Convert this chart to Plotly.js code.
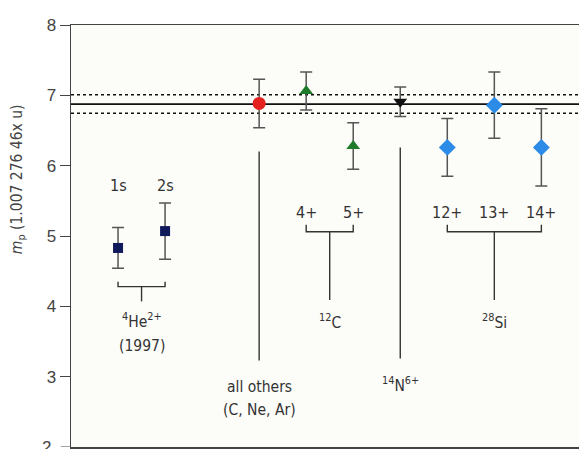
<!DOCTYPE html>
<html><head><meta charset="utf-8">
<script src="https://cdn.plot.ly/plotly-3.0.1.min.js"></script>
<style>body{margin:0;background:#fff}#chart{width:579px;height:449px}</style>
</head><body><div id="chart"></div>
<script>
// Data
const heX = [1, 2];
const heY = [4.83, 5.07];
const heErr = [0.29, 0.40];
const heLabels = ['1s', '2s'];

const allX = [4];
const allY = [6.885];
const allErr = [0.345];

const cX = [5, 6];
const cY = [7.06, 6.28];
const cErr = [0.27, 0.33];
const cLabels = ['4+', '5+'];

const nX = [7];
const nY = [6.91];
const nErr = [0.21];

const siX = [8, 9, 10];
const siY = [6.26, 6.86, 6.26];
const siErr = [0.41, 0.47, 0.55];
const siLabels = ['12+', '13+', '14+'];

// reference lines: mean and +/- uncertainty
const meanVal = 6.875;
const bandHi = 7.01;
const bandLo = 6.745;

// leader lines (vertical)
const leaderX = [4, 7];
const leaderTop = [6.20, 6.26];
const leaderBottom = [3.23, 3.26];

// brackets
const brStart = [1, 5, 8];
const brEnd = [2, 6, 10];
const brStem = [1.5, 5.5, 9];
const brTop = [4.35, 5.16, 5.16];
const brBar = [4.28, 5.06, 5.06];
const brStemEnd = [4.07, 4.09, 4.09];

// group labels
const groupText = ['<sup>4</sup>He<sup>2+</sup>', '(1997)', '<sup>12</sup>C', '<sup>28</sup>Si', 'all others', '(C, Ne, Ar)', '<sup>14</sup>N<sup>6+</sup>'];
const groupX = [1.5, 1.5, 5.5, 9, 4, 4, 7];
const groupY = [3.80, 3.43, 3.78, 3.78, 2.85, 2.52, 2.89];

const stateLabelY = [5.72, 5.34, 5.34];

const yTicks = [2, 3, 4, 5, 6, 7, 8];
const xTicks = [0, 1, 2, 3, 4, 5, 6, 7, 8, 9, 10];

const FONT = '"Liberation Sans Narrow", "DejaVu Sans Condensed", "Arial Narrow", sans-serif';
const TICKFONT = '"Liberation Sans", Arial, sans-serif';
const errColor = '#555';

function errTrace(x, y, e, sym, color, size) {
  return {
    x: x, y: y, type: 'scatter', mode: 'markers',
    marker: {symbol: sym, color: color, size: size, line: {width: 0}},
    error_y: {type: 'data', array: e, visible: true, color: errColor, thickness: 1.5, width: 6},
    hoverinfo: 'skip', showlegend: false, cliponaxis: false
  };
}

const traces = [];
const xr = [0, 10.8];
traces.push({x: xr, y: [bandHi, bandHi], mode: 'lines', line: {color: '#111', width: 1.5, dash: 'dot'}, showlegend: false, hoverinfo: 'skip'});
traces.push({x: xr, y: [bandLo, bandLo], mode: 'lines', line: {color: '#111', width: 1.5, dash: 'dot'}, showlegend: false, hoverinfo: 'skip'});
traces.push({x: xr, y: [meanVal, meanVal], mode: 'lines', line: {color: '#111', width: 1.6}, showlegend: false, hoverinfo: 'skip'});

for (let i = 0; i < leaderX.length; i++) {
  traces.push({x: [leaderX[i], leaderX[i]], y: [leaderTop[i], leaderBottom[i]], mode: 'lines', line: {color: '#333', width: 1.4}, showlegend: false, hoverinfo: 'skip'});
}
for (let i = 0; i < brStart.length; i++) {
  traces.push({x: [brStart[i], brStart[i], brEnd[i], brEnd[i]], y: [brTop[i], brBar[i], brBar[i], brTop[i]], mode: 'lines', line: {color: '#333', width: 1.4}, showlegend: false, hoverinfo: 'skip'});
  traces.push({x: [brStem[i], brStem[i]], y: [brBar[i], brStemEnd[i]], mode: 'lines', line: {color: '#333', width: 1.4}, showlegend: false, hoverinfo: 'skip'});
}

traces.push(errTrace(heX, heY, heErr, 'square', '#101a5a', 10));
traces.push(errTrace(allX, allY, allErr, 'circle', '#e5211d', 13));
traces.push(errTrace(cX, cY, cErr, 'triangle-up', '#1e7b2a', 12));
traces.push(errTrace(nX, nY, nErr, 'triangle-down', '#111111', 12));
traces.push(errTrace(siX, siY, siErr, 'diamond', '#2b8be6', 13));

const annotations = [];
const txtFont = {family: FONT, size: 16, color: '#333'};
const smallFont = {family: FONT, size: 15.5, color: '#333'};
heX.forEach((x, i) => annotations.push({x: x, y: stateLabelY[0], text: heLabels[i], showarrow: false, font: txtFont}));
cX.forEach((x, i) => annotations.push({x: x, y: stateLabelY[1], text: cLabels[i], showarrow: false, font: txtFont}));
siX.forEach((x, i) => annotations.push({x: x, y: stateLabelY[2], text: siLabels[i], showarrow: false, font: txtFont}));
groupText.forEach((t, i) => annotations.push({x: groupX[i], y: groupY[i], text: t, showarrow: false, font: smallFont}));

annotations.push({
  xref: 'paper', yref: 'y', x: -0.104, xanchor: 'center', yanchor: 'middle', y: 5.81, textangle: -90,
  text: '<i>m</i><sub>p</sub> (1.007 276 46x u)', showarrow: false,
  font: {family: FONT, size: 15.5, color: '#444'}
});
// bottom tick label, drawn partly off the page as in the original
annotations.push({
  xref: 'paper', yref: 'y', x: -0.036, xanchor: 'right', yanchor: 'middle', y: yTicks[0],
  text: String(yTicks[0]), showarrow: false,
  font: {family: TICKFONT, size: 17, color: '#444'}
});

const layout = {
  width: 579, height: 449,
  margin: {l: 71, r: 0, t: 25, b: 2, pad: 0},
  paper_bgcolor: '#ffffff', plot_bgcolor: '#fcfcf9',
  showlegend: false,
  xaxis: {
    range: [0, 10.8], tickvals: xTicks, ticktext: xTicks.map(() => ''),
    showgrid: false, zeroline: false, showline: true, linecolor: '#444', linewidth: 1.5,
    mirror: true, ticks: 'outside', ticklen: 6, tickcolor: '#444', tickwidth: 1
  },
  yaxis: {
    range: [2, 8], tickvals: yTicks.slice(1), ticktext: yTicks.slice(1).map(String),
    showgrid: false, zeroline: false, showline: true, linecolor: '#444', linewidth: 1.5,
    mirror: false, ticks: 'outside', ticklen: 10, tickcolor: '#444', tickwidth: 1,
    tickfont: {family: TICKFONT, size: 17, color: '#444'}
  },
  shapes: [{type: 'line', xref: 'paper', yref: 'y', x0: -0.02, x1: 0, y0: yTicks[0], y1: yTicks[0], line: {color: '#444', width: 1}}],
  annotations: annotations
};

Plotly.newPlot('chart', traces, layout, {displayModeBar: false, staticPlot: true});
</script></body></html>
